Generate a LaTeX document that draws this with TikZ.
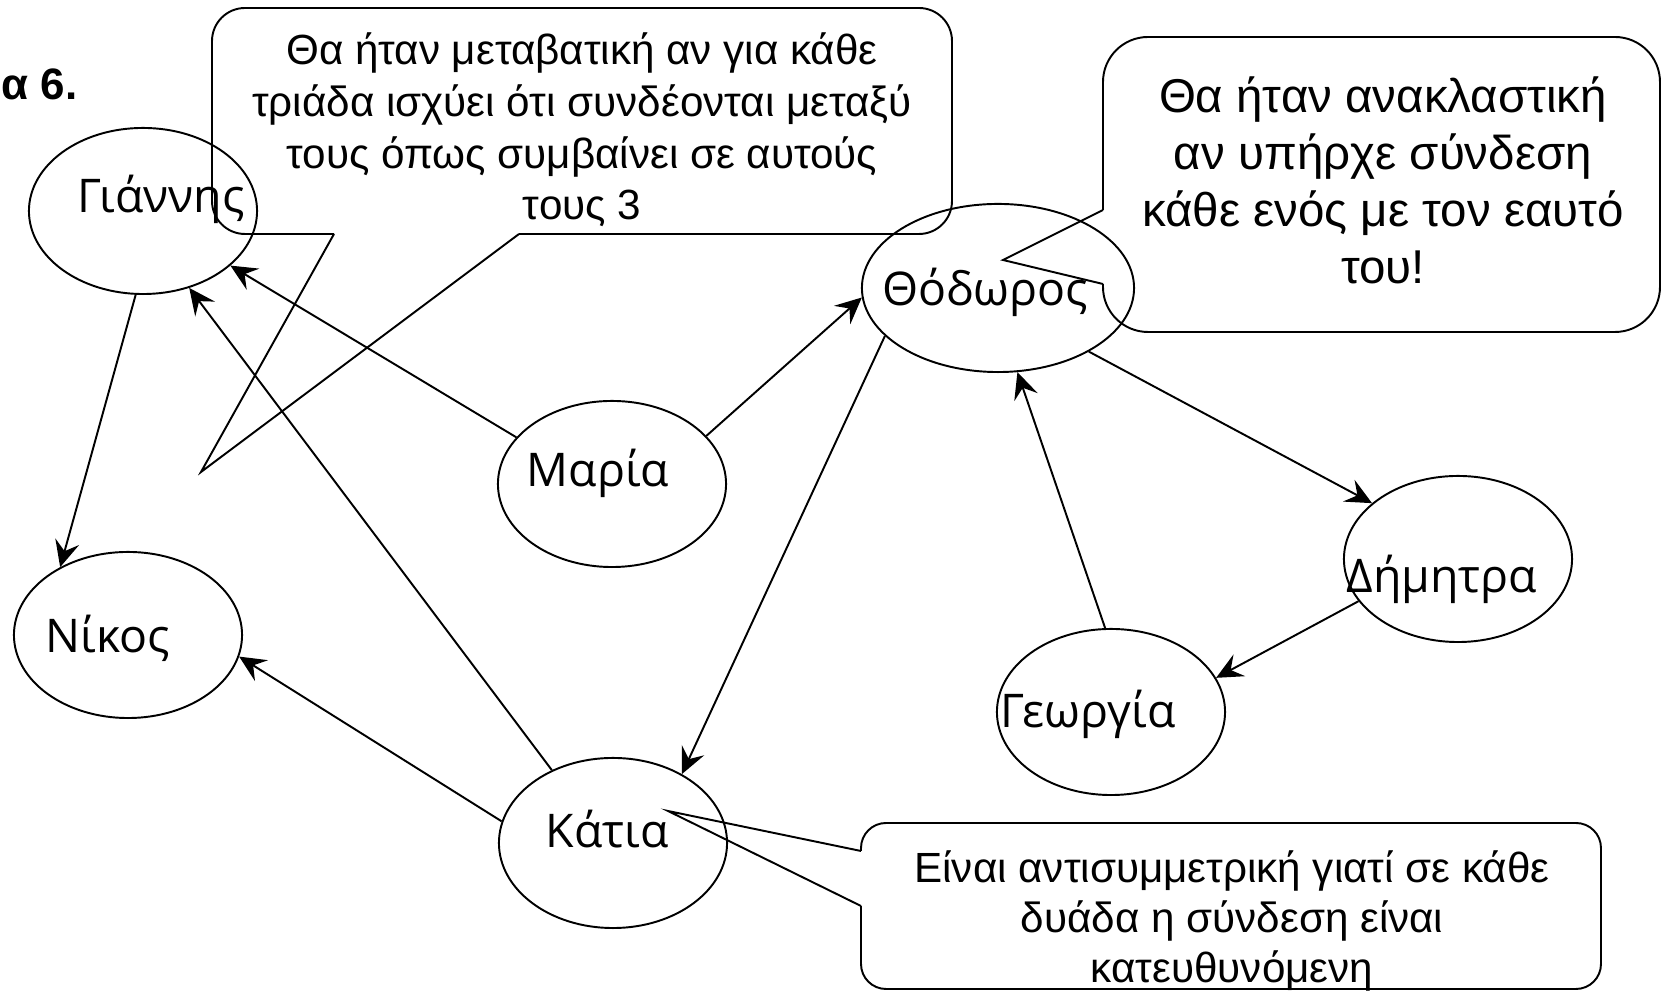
\documentclass[tikz,border=0pt]{standalone}
\usepackage{fontspec}
\setmainfont{Liberation Sans}
\newfontfamily\namefont{Open Sans}
\usetikzlibrary{arrows.meta,shapes.geometric}

\tikzset{
  person/.style={draw, ellipse, line width=0.55pt, inner sep=0pt,
    minimum width=2.28cm, minimum height=1.66cm},
  pname/.style={anchor=base, inner sep=0pt, font=\namefont\fontsize{13.2}{16}\selectfont},
  note/.style={align=center, inner sep=0pt, font=\fontsize{12}{14.7}\selectfont},
  link/.style={-{Stealth[length=7.5pt,width=7pt,inset=2.8pt]}, line width=0.55pt},
  bubble/.style={line width=0.55pt}
}

\begin{document}
\begin{tikzpicture}[x=0.01cm, y=-0.01cm]
  \useasboundingbox (0,0) rectangle (1662,992);

  \node[anchor=base east, inner sep=0pt, font=\bfseries\fontsize{12.5}{15}\selectfont] (title) at (78,100) {α 6.};

  % the people
  \node[person] (giannis) at (143,211) {};
  \node[person] (nikos) at (128,635) {};
  \node[person] (maria) at (612,484) {};
  \node[person, minimum width=2.72cm, minimum height=1.68cm] (theo) at (998,288) {};
  \node[person] (dimitra) at (1458,559) {};
  \node[person] (georgia) at (1111,712) {};
  \node[person, minimum height=1.70cm] (katia) at (613,843) {};

  \node[pname] (giannisT) at (161,213) {Γιάννης};
  \node[pname] (nikosT) at (108,653) {Νίκος};
  \node[pname] (mariaT) at (598,487) {Μαρία};
  \node[pname] (theoT) at (985,306) {Θόδωρος};
  \node[pname] (dimitraT) at (1442,593) {Δήμητρα};
  \node[pname] (georgiaT) at (1088,728) {Γεωργία};
  \node[pname] (katiaT) at (607,848) {Κάτια};

  % the relation
  \draw[link] (giannis.-95) -- (nikos.135);
  \draw[link] (maria.154) -- (giannis.-32);
  \draw[link] (katia.130) -- (giannis.-59);
  \draw[link] (katia.169) -- (nikos.-11);
  \draw[link] (maria.27) -- (theo.184);
  \draw[link] (theo.-157) -- (katia.45);
  \draw[link] (theo.-35) -- (dimitra.147);
  \draw[link] (dimitra.-157) -- (georgia.18);
  \draw[link] (georgia.94) -- (theo.-77);

  % callouts
  \draw[bubble, rounded corners=0.33cm] (334,234) -- (212,234) -- (212,8) -- (952,8) -- (952,234) -- (519,234);
  \coordinate (transTip) at (201,472);
  \draw[bubble] (334,234) -- (transTip) -- (519,234);
  \node[note] (transT) at (582,130) {Θα ήταν μεταβατική αν για κάθε\\τριάδα ισχύει ότι συνδέονται μεταξύ\\τους όπως συμβαίνει σε αυτούς\\τους 3};

  \draw[bubble, rounded corners=0.45cm] (1103,210) -- (1103,37) -- (1660,37) -- (1660,332) -- (1103,332) -- (1103,284);
  \coordinate (reflTip) at (1003,260);
  \draw[bubble] (1103,210) -- (reflTip) -- (1103,284);
  \node[note, font=\fontsize{13.5}{16.2}\selectfont] (reflT) at (1383,180) {Θα ήταν ανακλαστική\\αν υπήρχε σύνδεση\\κάθε ενός με τον εαυτό\\του!};

  \draw[bubble, rounded corners=0.25cm] (861,851) -- (861,823) -- (1601,823) -- (1601,989) -- (861,989) -- (861,906);
  \coordinate (antiTip) at (668,811);
  \draw[bubble] (861,851) -- (antiTip) -- (861,906);
  \node[note, font=\fontsize{12}{14.2}\selectfont] (antiT) at (1232,921) {Είναι αντισυμμετρική γιατί σε κάθε\\δυάδα η σύνδεση είναι\\κατευθυνόμενη};
\end{tikzpicture}
\end{document}
